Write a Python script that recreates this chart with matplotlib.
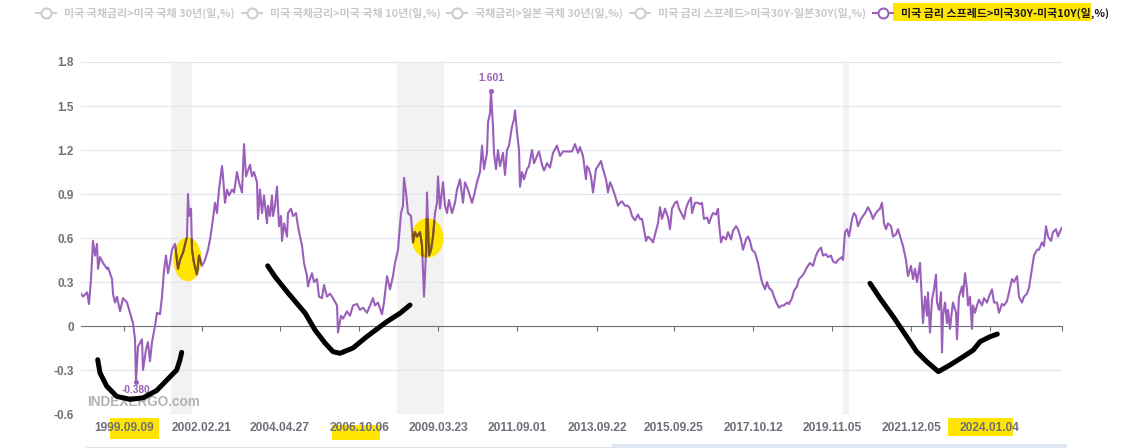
import matplotlib
matplotlib.use('Agg')
import matplotlib.pyplot as plt
from matplotlib.patches import Rectangle, Ellipse
from matplotlib.lines import Line2D
import numpy as np

plt.rcParams['font.family'] = ['Noto Sans CJK KR', 'DejaVu Sans']

# ---------------- data (observation index on the category axis, spread in %p) ----------------
seg_1998_2004 = [
    (0, 0.22), (2, 0.20), (6, 0.23), (8, 0.15), (10, 0.32), (12, 0.58), (14, 0.48), (16, 0.56),
    (17, 0.39), (19, 0.47), (22, 0.43), (26, 0.39), (27, 0.40), (31, 0.32), (32, 0.22), (34, 0.16),
    (36, 0.20), (39, 0.10), (42, 0.19), (46, 0.16), (49, 0.09), (52, 0.02), (54, -0.09), (55, -0.38),
    (57, -0.14), (61, -0.09), (62, -0.30), (65, -0.16), (67, -0.11), (69, -0.24), (71, -0.11), (74, 0.00),
    (76, 0.09), (79, 0.08), (81, 0.20), (83, 0.375), (85, 0.48), (87, 0.36), (89, 0.43), (91, 0.52),
    (94, 0.56), (97, 0.39), (99, 0.45), (102, 0.50), (106, 0.61), (107, 0.90), (108, 0.75), (110, 0.80),
    (111, 0.52), (113, 0.43), (116, 0.35), (118, 0.48), (121, 0.41), (124, 0.45), (127, 0.52), (129, 0.59),
    (131, 0.68), (134, 0.84), (136, 0.77), (138, 0.93), (141, 1.09), (142, 1.02), (144, 0.84), (146, 0.93),
    (148, 0.89), (151, 0.93), (153, 0.91), (156, 1.05), (158, 0.98), (161, 0.91), (162, 1.07), (163, 1.24),
    (165, 1.02), (167, 1.06), (169, 1.10), (171, 1.02), (173, 1.05), (176, 0.98), (177, 0.73), (179, 0.93),
    (181, 0.77), (183, 0.89), (186, 0.70), (187, 0.82), (189, 0.75), (191, 0.89), (192, 0.75), (194, 0.82),
    (196, 0.95), (198, 0.68), (200, 0.75), (201, 0.58), (203, 0.70), (206, 0.61), (207, 0.77), (210, 0.80),
    (212, 0.75), (215, 0.77), (217, 0.68), (219, 0.61), (221, 0.55), (223, 0.43), (226, 0.34), (227, 0.27),
    (229, 0.32), (231, 0.36), (233, 0.30), (236, 0.32), (238, 0.20), (241, 0.19), (243, 0.28), (246, 0.20),
    (249, 0.22),
]
seg_2004_2011 = [
    (252, 0.19), (256, 0.14), (257, -0.045), (260, 0.07), (262, 0.05), (266, 0.10), (269, 0.07), (272, 0.14),
    (276, 0.15), (279, 0.11), (282, 0.125), (286, 0.09), (289, 0.14), (292, 0.19), (294, 0.14), (297, 0.16),
    (301, 0.08), (303, 0.16), (306, 0.34), (309, 0.25), (312, 0.34), (314, 0.43), (317, 0.52), (320, 0.77),
    (322, 0.82), (323, 1.01), (325, 0.91), (327, 0.77), (330, 0.75), (332, 0.57), (334, 0.64), (336, 0.61),
    (339, 0.64), (341, 0.55), (343, 0.20), (345, 0.50), (346, 0.91), (348, 0.48), (350, 0.52), (352, 0.61),
    (354, 0.77), (356, 0.84), (357, 1.02), (359, 0.80), (362, 0.98), (364, 0.82), (366, 0.77), (368, 0.86),
    (371, 0.77), (374, 0.84), (376, 0.93), (379, 1.00), (382, 0.84), (384, 0.98), (387, 0.93), (391, 0.84),
    (393, 0.89), (396, 0.98), (399, 1.05), (401, 1.23), (403, 1.07), (406, 1.18), (407, 1.39), (409, 1.45),
    (410, 1.601), (412, 1.36), (413, 1.18), (415, 1.07), (417, 1.20), (419, 1.09), (422, 1.18), (424, 1.03),
    (426, 1.20), (428, 1.23), (431, 1.36), (433, 1.41), (434, 1.47), (436, 1.32), (438, 1.20), (439, 0.95),
    (441, 1.05), (443, 1.00), (446, 1.07), (448, 1.09), (451, 1.20), (453, 1.11), (456, 1.16), (458, 1.19),
    (461, 1.10), (463, 1.06), (466, 1.11), (469, 1.08), (472, 1.18), (476, 1.23), (479, 1.16), (482, 1.19),
]
seg_2011_2019 = [
    (484, 1.19), (491, 1.19), (494, 1.24), (497, 1.18), (499, 1.22), (502, 1.16), (505, 1.00), (506, 1.09),
    (508, 1.07), (510, 1.02), (512, 0.91), (515, 1.07), (517, 1.09), (520, 1.125), (522, 1.07), (525, 1.00),
    (527, 0.91), (529, 0.98), (531, 0.95), (534, 0.89), (537, 0.82), (539, 0.84), (541, 0.85), (544, 0.82),
    (547, 0.82), (549, 0.80), (551, 0.75), (554, 0.72), (557, 0.76), (559, 0.73), (561, 0.73), (563, 0.66),
    (565, 0.58), (567, 0.61), (570, 0.59), (572, 0.57), (575, 0.65), (577, 0.70), (579, 0.81), (581, 0.73),
    (584, 0.80), (587, 0.74), (589, 0.66), (591, 0.80), (594, 0.84), (596, 0.85), (598, 0.80), (601, 0.76),
    (603, 0.73), (605, 0.80), (607, 0.84), (610, 0.875), (611, 0.77), (614, 0.84), (617, 0.84), (619, 0.83),
    (621, 0.84), (623, 0.73), (626, 0.74), (628, 0.70), (630, 0.74), (632, 0.77), (635, 0.76), (637, 0.80),
    (638, 0.70), (640, 0.57), (642, 0.61), (645, 0.59), (647, 0.64), (650, 0.59), (652, 0.65), (655, 0.68),
    (657, 0.66), (660, 0.59), (662, 0.52), (665, 0.59), (667, 0.61), (669, 0.58), (671, 0.52), (674, 0.50),
    (677, 0.43), (679, 0.36), (681, 0.30), (684, 0.25), (686, 0.30), (688, 0.26), (691, 0.24), (693, 0.20),
    (696, 0.15), (698, 0.125), (701, 0.14), (703, 0.14), (706, 0.16), (708, 0.15), (711, 0.19), (713, 0.24),
    (716, 0.27), (718, 0.32), (721, 0.34), (723, 0.36), (726, 0.40),
]
seg_2019_2025 = [
    (729, 0.43), (732, 0.41), (735, 0.48), (737, 0.51), (740, 0.535), (742, 0.48), (745, 0.49), (747, 0.47),
    (750, 0.48), (752, 0.44), (755, 0.43), (757, 0.45), (761, 0.47), (762, 0.45), (764, 0.64), (766, 0.66),
    (768, 0.61), (771, 0.73), (773, 0.77), (775, 0.75), (777, 0.68), (780, 0.73), (782, 0.75), (785, 0.78),
    (787, 0.81), (790, 0.77), (792, 0.73), (794, 0.76), (796, 0.78), (799, 0.80), (801, 0.84), (803, 0.70),
    (805, 0.66), (807, 0.70), (810, 0.68), (812, 0.61), (815, 0.625), (817, 0.66), (820, 0.59), (822, 0.545),
    (825, 0.45), (827, 0.34), (830, 0.41), (832, 0.32), (834, 0.39), (836, 0.30), (839, 0.43), (841, 0.16),
    (842, 0.02), (844, 0.20), (846, 0.07), (847, 0.23), (849, -0.045), (851, 0.18), (853, 0.25), (855, 0.35),
    (856, 0.16), (858, 0.11), (860, 0.23), (861, -0.18), (862, 0.07), (864, 0.16), (866, 0.02), (867, 0.11),
    (869, -0.02), (871, 0.11), (872, 0.16), (875, 0.09), (876, -0.09), (878, 0.20), (881, 0.27), (882, 0.20),
    (884, 0.36), (886, 0.25), (887, 0.14), (889, 0.20), (891, -0.02), (892, 0.14), (894, 0.09), (896, 0.14),
    (898, 0.18), (901, 0.14), (903, 0.19), (906, 0.16), (908, 0.20), (911, 0.25), (913, 0.16), (916, 0.16),
    (918, 0.09), (921, 0.15), (923, 0.14), (926, 0.17), (928, 0.23), (931, 0.32), (933, 0.30), (936, 0.34),
    (938, 0.20), (941, 0.16), (943, 0.20), (946, 0.22), (948, 0.26), (951, 0.39), (953, 0.48), (956, 0.52),
    (958, 0.52), (961, 0.57), (963, 0.545), (965, 0.68), (967, 0.61), (970, 0.58), (972, 0.64), (975, 0.66),
    (977, 0.61), (980, 0.66), (981, 0.67),
]

tick_labels = ['1999.09.09', '2002.02.21', '2004.04.27', '2006.10.06', '2009.03.23', '2011.09.01',
               '2013.09.22', '2015.09.25', '2017.10.12', '2019.11.05', '2021.12.05', '2024.01.04']
tick_obs = [43, 121, 199, 278, 357, 436, 516, 593, 672, 751, 830, 909]
axis_end_obs = 981
recession_bands = [(90, 111), (316, 363), (762, 768)]
y_ticks = [-0.6, -0.3, 0, 0.3, 0.6, 0.9, 1.2, 1.5, 1.8]

legend_labels = ['미국 국채금리>미국 국채 30년(일,%)', '미국 국채금리>미국 국채 10년(일,%)',
                 '국채금리>일본 국채 30년(일,%)', '미국 금리 스프레드>미국30Y-일본30Y(일,%)',
                 '미국 금리 스프레드>미국30Y-미국10Y(일,%)']
legend_active = [False, False, False, False, True]

# hand-drawn marker strokes that sit on top of the reference picture
scribble_1 = [(16.7, -0.23), (19, -0.32), (25.7, -0.41), (35.7, -0.48), (49, -0.50), (62, -0.49),
              (75.7, -0.44), (85.7, -0.37), (95.7, -0.30), (99, -0.23), (100.7, -0.18)]
scribble_2 = [(186.7, 0.41), (194, 0.336), (207.3, 0.223), (224, 0.089), (234, -0.027), (244, -0.116),
              (252, -0.175), (259, -0.186), (272, -0.150), (285.7, -0.073), (305.7, 0.029), (319, 0.087),
              (329, 0.143)]
scribble_3 = [(789, 0.291), (799, 0.189), (812.3, 0.063), (825.7, -0.073), (835.7, -0.175), (845.7, -0.243),
              (857.3, -0.311), (869, -0.266), (882.3, -0.209), (892.3, -0.164), (899, -0.107), (909, -0.073),
              (916.3, -0.055)]
yellow_blobs = [((106.5, 0.455), 28, 0.30), ((346.5, 0.60), 32, 0.27)]

# ---------------- figure ----------------
points = seg_1998_2004 + seg_2004_2011 + seg_2011_2019 + seg_2019_2025
obs = np.array([p[0] for p in points], dtype=float)
spread = np.array([p[1] for p in points], dtype=float)

W, H, DPI = 1145, 448, 100
PURPLE = '#9a5fba'
GREY_TXT = '#6e7079'
YELLOW = '#ffe500'
NUMFONT = ['Liberation Sans', 'DejaVu Sans']

fig = plt.figure(figsize=(W / DPI, H / DPI), dpi=DPI)
fig.patch.set_facecolor('white')


def fx(px):
    return px / W


def fy(py):
    return 1 - py / H


ax = fig.add_axes([fx(81), fy(414), 981 / W, 352 / H])
ax.set_zorder(2)
ax.patch.set_visible(False)
ax.set_xlim(0, axis_end_obs)
ax.set_ylim(-0.6, 1.8)
for s in ['top', 'right', 'left']:
    ax.spines[s].set_visible(False)
ax.spines['bottom'].set_position(('data', 0))
ax.spines['bottom'].set_color(GREY_TXT)
ax.spines['bottom'].set_linewidth(0.8)
ax.spines['bottom'].set_zorder(2.5)
ax.set_xticks(tick_obs + [axis_end_obs])
ax.tick_params(axis='x', length=3.6, width=0.8, color=GREY_TXT, labelbottom=False, direction='out')
ax.set_yticks(y_ticks)
ax.set_yticklabels([f'{v:g}' for v in y_ticks])
ax.tick_params(axis='y', length=0, pad=5, labelsize=8.5, labelcolor=GREY_TXT)
for lab in ax.get_yticklabels():
    lab.set_fontweight('bold')
    lab.set_family(NUMFONT)
ax.yaxis.grid(True, color='#e0e6f1', lw=0.8)
ax.set_axisbelow(True)

for a, b in recession_bands:
    ax.axvspan(a, b, color='#f2f2f2', lw=0, zorder=0.3)

# x labels at bottom of the plot
for t, lab in zip(tick_obs, tick_labels):
    ax.text(t, (414 - 428) / 352, lab, transform=ax.get_xaxis_transform(), ha='center', va='center',
            fontsize=8.6, fontweight='bold', color=GREY_TXT, family=NUMFONT, clip_on=False)

# highlighter blobs on the chart
for (c, w, h) in yellow_blobs:
    e = Ellipse(c, w, h, facecolor=YELLOW, edgecolor='none', zorder=2)
    ax.add_patch(e)

ax.plot(obs, spread, color=PURPLE, lw=1.5, zorder=3, solid_joinstyle='round')
for (c, w, h) in yellow_blobs:
    clip = Ellipse(c, w, h, transform=ax.transData)
    l2, = ax.plot(obs, spread, color='#7d5312', lw=1.5, zorder=3.5)
    l2.set_clip_path(clip)

imax = int(np.argmax(spread))
imin = int(np.argmin(spread))
ax.plot([obs[imax]], [spread[imax]], 'o', ms=2.6, color=PURPLE, zorder=4)
ax.plot([obs[imin]], [spread[imin]], 'o', ms=2.6, color=PURPLE, zorder=4)
ax.annotate(f'{spread[imax]:.3f}', (obs[imax], spread[imax]), xytext=(0, 9.5), textcoords='offset points',
            ha='center', va='center', fontsize=7.5, fontweight='bold', color=PURPLE, family=NUMFONT, zorder=4)
ax.annotate(f'{spread[imin]:.3f}', (obs[imin], spread[imin]), xytext=(0, -6.2), textcoords='offset points',
            ha='center', va='center', fontsize=7.3, fontweight='bold', color=PURPLE, family=NUMFONT, zorder=4)

ax.text((87 - 81) / 981, (414 - 402) / 352, 'INDEXERGO.com', transform=ax.transAxes, ha='left', va='center',
        fontsize=9.8, fontweight='bold', color='#b3b3b3', family=NUMFONT, zorder=4)

for sc in (scribble_1, scribble_2, scribble_3):
    ax.plot([p[0] for p in sc], [p[1] for p in sc], color='black', lw=3.6, solid_capstyle='round',
            solid_joinstyle='round', zorder=6, clip_on=False)

# ---------------- legend (top, centred) ----------------
renderer = fig.canvas.get_renderer()
texts, widths = [], []
for lab, act in zip(legend_labels, legend_active):
    t = fig.text(0, fy(13), lab, fontsize=7.9, fontweight='bold', color='#1a1a1a' if act else '#c8c8c8',
                 ha='left', va='center', zorder=5)
    texts.append(t)
    widths.append(t.get_window_extent(renderer=renderer).width)
ICON, GAP_T, GAP_I = 20, 8, 7
total = sum(ICON + GAP_T + w for w in widths) + GAP_I * (len(widths) - 1)
x = 572.5 - total / 2
for t, w, act in zip(texts, widths, legend_active):
    col = PURPLE if act else '#cccccc'
    if act:
        fig.patches.append(Rectangle((fx(x + ICON), fy(21)), (w + GAP_T - 18) / W, 18 / H,
                                     transform=fig.transFigure, facecolor=YELLOW, edgecolor='none', zorder=1))
    fig.add_artist(Line2D([fx(x), fx(x + ICON)], [fy(13), fy(13)], transform=fig.transFigure, color=col,
                          lw=1.44, zorder=4))
    fig.add_artist(Line2D([fx(x + ICON / 2)], [fy(13)], transform=fig.transFigure, marker='o', ms=7.2,
                          mfc='white', mec=col, mew=1.44, lw=0, zorder=4.5))
    t.set_x(fx(x + ICON + GAP_T))
    x += ICON + GAP_T + w + GAP_I

# highlighter strokes under some x labels
for (x0, y0, x1, y1) in [(110, 418, 159, 439), (332, 425, 380, 440), (948, 418, 1013, 436)]:
    fig.patches.append(Rectangle((fx(x0), fy(y1)), (x1 - x0) / W, (y1 - y0) / H, transform=fig.transFigure,
                                 facecolor=YELLOW, edgecolor='none', zorder=1))

# data-zoom slider remnant at the very bottom
fig.add_artist(Line2D([fx(86), fx(612)], [fy(447), fy(447)], transform=fig.transFigure, color='#e4e4e4', lw=0.8))
fig.patches.append(Rectangle((fx(612), fy(448)), (1067 - 612) / W, 4 / H, transform=fig.transFigure,
                             facecolor='#dfe5f3', edgecolor='none', zorder=1))

fig.savefig('out.png', dpi=DPI, facecolor='white')
